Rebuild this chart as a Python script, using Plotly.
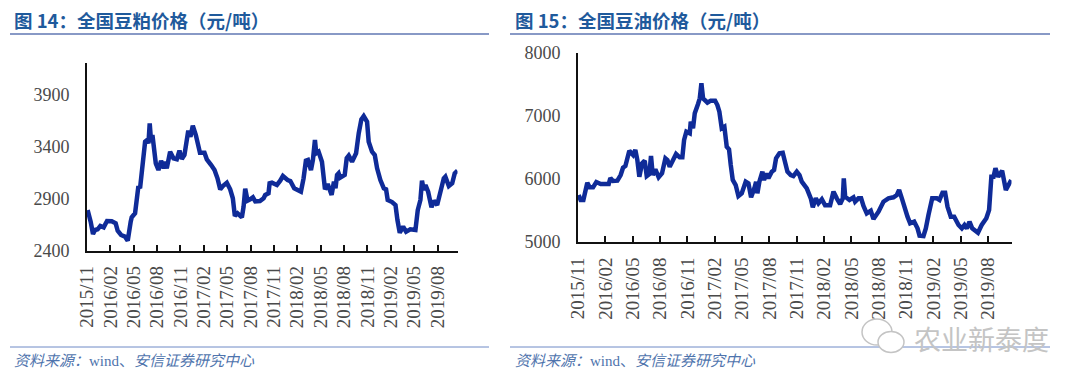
import plotly.graph_objects as go

# The page keeps an 8 px body margin round the figure
PAGE_W, PAGE_H, PAGE_MARGIN = 1080, 386, 8
W, H = PAGE_W - 2 * PAGE_MARGIN, PAGE_H - 2 * PAGE_MARGIN

tick_labels = ["2015/11", "2016/02", "2016/05", "2016/08", "2016/11", "2017/02", "2017/05", "2017/08",
               "2017/11", "2018/02", "2018/05", "2018/08", "2018/11", "2019/02", "2019/05", "2019/08"]
tick_months = [0, 3, 6, 9, 12, 15, 18, 21, 24, 27, 30, 33, 36, 39, 42, 45]

# months since 2015/11, price in yuan per tonne
meal_months = [0.08, 0.26, 0.47, 0.77, 1.03, 1.37, 1.71, 2.14, 2.57, 3.17, 3.68, 3.94, 4.37, 4.88, 5.23, 5.61, 5.74,
               6.17, 6.38, 6.6, 6.81, 7.03, 7.33, 7.46, 7.71, 7.89, 8.05, 8.23, 8.4, 8.61, 8.83, 9.17, 9.51, 9.85,
               10.03, 10.24, 10.67, 11.1, 11.53, 11.87, 12.17, 12.51, 12.72, 13.0, 13.28, 13.58, 13.97, 14.3, 14.5,
               15.08, 15.38, 15.94, 16.37, 16.75, 17.1, 17.44, 17.95, 18.38, 18.72, 18.98, 19.33, 19.88, 20.1, 20.31,
               20.61, 20.95, 21.3, 21.6, 22.2, 22.67, 22.88, 23.3, 23.44, 23.74, 24.38, 24.8, 25.15, 25.75, 26.1,
               26.6, 27.03, 27.46, 27.8, 28.1, 28.36, 28.75, 29.0, 29.26, 29.43, 29.73, 30.16, 30.38, 30.55, 30.9,
               31.4, 31.7, 31.9, 32.1, 32.3, 32.5, 33.08, 33.34, 33.6, 34.02, 34.54, 34.88, 35.22, 35.52, 35.95,
               36.16, 36.59, 36.94, 37.24, 37.66, 38.1, 38.39, 38.6, 39.16, 39.6, 39.85, 40.15, 40.58, 40.96, 41.5,
               42.16, 42.46, 42.8, 43.0, 43.23, 43.45, 43.79, 44.22, 44.52, 44.95, 45.38, 45.8, 46.0, 46.45, 46.88,
               47.2, 47.56]
meal_price = [2789, 2709, 2677, 2559, 2597, 2604, 2636, 2623, 2684, 2681, 2661, 2590, 2549, 2533, 2494, 2677, 2719,
              2758, 2950, 3020, 2998, 3142, 3335, 3446, 3462, 3431, 3623, 3446, 3510, 3398, 3238, 3174, 3263, 3190,
              3254, 3190, 3350, 3287, 3277, 3360, 3280, 3318, 3446, 3552, 3494, 3600, 3510, 3366, 3340,
              3340, 3277, 3222, 3174, 3094, 2988, 3020, 3052, 2988, 2902, 2732, 2758, 2719, 2821, 2994,
              2879, 2892, 2911, 2873, 2876, 2902, 2934, 2950, 3046, 3052, 3030, 3071, 3116, 3078, 3068,
              2998, 2982, 2965, 3094, 3263, 3270, 3174, 3270, 3462, 3335, 3350, 3254, 3094, 2988, 3039,
              2934, 3061, 2998, 3126, 3142, 3100, 3126, 3287, 3312, 3254, 3335, 3527, 3661, 3693, 3638,
              3446, 3350, 3318, 3190, 3078, 2998, 2988, 2886, 2866, 2837, 2693, 2571, 2629, 2581, 2604,
              2597, 2789, 2886, 3071, 2982, 3030, 2965, 2815, 2879, 2837, 2982, 3094, 3110, 3020, 3046,
              3142, 3167]

oil_months = [0.07, 0.29, 0.59, 0.8, 1.02, 1.28, 1.65, 2.01, 2.49, 3.37, 3.55, 3.84, 4.32, 4.68, 4.94, 5.2, 5.42,
              5.63, 6.04, 6.29, 6.51, 6.73, 7.03, 7.32, 7.54, 7.83, 8.01, 8.2, 8.49, 8.85, 9.22, 9.59, 9.81, 10.06,
              10.43, 10.76, 11.16, 11.45, 11.64, 11.89, 12.26, 12.37, 12.62, 12.81, 13.17, 13.36, 13.54, 13.72,
              14.09, 14.2, 14.56, 15.04, 15.29, 15.51, 15.77, 16.06, 16.32, 16.57, 16.76, 16.98, 17.3, 17.6, 17.96,
              18.4, 18.7, 18.99, 19.35, 19.54, 19.68, 19.9, 20.23, 20.41, 20.71, 20.89, 21.26, 21.51, 21.73, 22.1,
              22.46, 22.72, 22.98, 23.34, 23.63, 24.0, 24.3, 24.55, 25.1, 25.54, 25.76, 26.09, 26.38, 26.75, 27.11,
              27.66, 28.03, 28.39, 28.76, 29.05, 29.16, 29.31, 29.78, 30.22, 30.4, 30.77, 31.06, 31.32, 31.68,
              32.12, 32.42, 32.97, 33.51, 34.06, 34.61, 34.98, 35.23, 35.53, 35.89, 36.15, 36.44, 36.88, 37.25,
              37.47, 37.9, 38.16, 38.45, 38.86, 39.37, 39.66, 39.99, 40.28, 40.54, 40.9, 41.27, 41.75, 42.11, 42.4,
              42.66, 42.95, 43.25, 43.88, 44.29, 44.8, 45.1, 45.2, 45.35, 45.59, 45.8, 46.1, 46.53, 46.94, 47.3,
              47.53]
oil_price = [5746, 5667, 5667, 5799, 5942, 5868, 5868, 5952, 5920, 5920, 6016, 5968, 5973, 6063, 6179, 6206, 6344,
             6449, 6381, 6460, 6301, 6036, 6249, 6290, 6047, 6079, 6365, 6063, 6154, 6027, 6090, 6328, 6301, 6195,
             6301, 6397, 6344, 6344, 6619, 6751, 6725, 6910, 6804, 7042, 7190, 7280, 7519, 7280,
             7227, 7211, 7243, 7243, 7174, 7068, 6804, 6830, 6513, 6471, 6222, 5984, 5905, 5730, 5772,
             5957, 5931, 5709, 5852, 5957, 5772, 5957, 6116, 5984, 6090, 6011, 6116, 6143, 6328, 6408,
             6417, 6249, 6116, 6063, 6047, 6116, 6063, 5957, 5852, 5693, 5551, 5693, 5614, 5678, 5582,
             5582, 5799, 5693, 5603, 5693, 6011, 5719, 5667, 5709, 5640, 5693, 5693, 5571, 5455,
             5497, 5365, 5481, 5640, 5693, 5709, 5746, 5825, 5693, 5508, 5402, 5297, 5322, 5217,
             5100, 5095, 5217, 5428, 5693, 5693, 5667, 5782, 5782, 5560, 5402, 5402, 5270, 5217, 5270,
             5217, 5322, 5217, 5148, 5270, 5376, 5508, 5693, 6036, 6036, 6170, 6036, 6132, 5825, 5905,
             5984]

LINE = "#0f2b98"
TEXT = "#4a4a4a"
TITLE = "#1f5a9c"
RULE_TOP = "#8899c6"
RULE_BOT = "#6f8ac6"
SOURCE = "#4f74ad"
SERIF = "Liberation Serif"
CJK = "Noto Sans CJK SC"
MIXED = "Liberation Serif, Noto Sans CJK SC"
MARK = "#c4c4c4"

def px(x):
    return (x - PAGE_MARGIN) / W

def py(y):
    return 1 - (y - PAGE_MARGIN) / H

fig = go.Figure()
fig.add_trace(go.Scatter(x=meal_months, y=meal_price, mode="lines", xaxis="x", yaxis="y",
                         line=dict(color=LINE, width=4.5), showlegend=False))
fig.add_trace(go.Scatter(x=oil_months, y=oil_price, mode="lines", xaxis="x2", yaxis="y2",
                         line=dict(color=LINE, width=4.5), showlegend=False))

def xaxis(domain, anchor):
    return dict(domain=domain, anchor=anchor, range=[0, 47.56], tickmode="array", tickvals=tick_months,
                ticktext=tick_labels, tickangle=-90, ticks="inside", ticklen=6, tickwidth=1.5, tickcolor="#111",
                showline=True, linecolor="#111", linewidth=2, showgrid=False, zeroline=False, automargin=False,
                ticklabelstandoff=6, tickfont=dict(family=SERIF, size=19, color=TEXT))

def yaxis(domain, anchor, rng, vals):
    return dict(domain=domain, anchor=anchor, range=rng, tickmode="array", tickvals=vals, ticks="",
                showline=True, linecolor="#111", linewidth=2, showgrid=False, zeroline=False, automargin=False,
                ticklabelstandoff=12, tickfont=dict(family=SERIF, size=18, color=TEXT))

def rule(x0, x1, y, color, width):
    return dict(type="line", xref="paper", yref="paper", x0=px(x0), x1=px(x1), y0=py(y), y1=py(y),
                line=dict(color=color, width=width))

def bubble(cx, cy, rx, ry):
    return dict(type="circle", xref="paper", yref="paper", x0=px(cx - rx), x1=px(cx + rx), y0=py(cy + ry),
                y1=py(cy - ry), line=dict(color=MARK, width=1.5), fillcolor="white", layer="above")

def note(x, y, text, size, color, family=CJK):
    return dict(xref="paper", yref="paper", x=px(x), y=py(y), text=text, showarrow=False, xanchor="left",
                yanchor="middle", font=dict(family=family, size=size, color=color))

SRC = "<i>资料来源：</i>wind、<i>安信证券研究中心</i>"
fig.update_layout(
    width=W, height=H, margin=dict(l=0, r=0, t=0, b=0, autoexpand=False), paper_bgcolor="white", plot_bgcolor="white",
    xaxis=xaxis([px(87), px(457.5)], "y"),
    yaxis=yaxis([py(250.5), py(63)], "x", [2400, 4203], [2400, 2900, 3400, 3900]),
    xaxis2=xaxis([px(578), px(1011.5)], "y2"),
    yaxis2=yaxis([py(242), py(53)], "x2", [5000, 8000], [5000, 6000, 7000, 8000]),
    shapes=[rule(10, 489, 34, RULE_TOP, 2), rule(510, 1050, 34, RULE_TOP, 2),
            rule(10, 489, 347, RULE_BOT, 1), rule(510, 1050, 347, RULE_BOT, 1),
            bubble(877, 332, 15, 13), bubble(891, 342, 13, 10.5)],
    annotations=[
        note(12, 20, "<b>图 14：全国豆粕价格（元/吨）</b>", 18.5, TITLE),
        note(513, 20, "<b>图 15：全国豆油价格（元/吨）</b>", 18.5, TITLE),
        note(12, 361, SRC, 15, SOURCE, MIXED),
        note(513, 361, SRC, 15, SOURCE, MIXED),
        note(912, 338, "农业新泰度", 27, MARK),
    ],
)
fig.write_html("out.html")
